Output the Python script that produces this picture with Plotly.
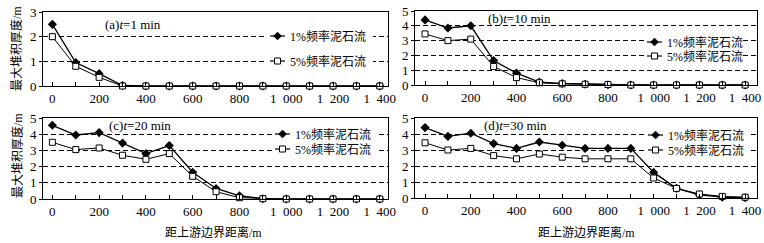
import plotly.graph_objects as go

x_dist = [0, 100, 200, 300, 400, 500, 600, 700, 800, 900, 1000, 1100, 1200, 1300, 1400]

a_1pct = [2.5, 0.95, 0.5, 0.02, 0, 0, 0, 0, 0, 0, 0, 0, 0, 0, 0]
a_5pct = [2.0, 0.8, 0.35, 0.0, 0, 0, 0, 0, 0, 0, 0, 0, 0, 0, 0]
b_1pct = [4.4, 3.85, 4.0, 1.65, 0.8, 0.2, 0.1, 0.05, 0.02, 0, 0, 0, 0, 0, 0]
b_5pct = [3.45, 3.0, 3.1, 1.25, 0.5, 0.15, 0.08, 0.05, 0.03, 0, 0, 0, 0, 0, 0]
c_1pct = [4.55, 3.95, 4.1, 3.45, 2.8, 3.3, 1.65, 0.65, 0.2, 0.02, 0, 0, 0, 0, 0]
c_5pct = [3.5, 3.05, 3.15, 2.7, 2.45, 2.8, 1.4, 0.45, 0.08, 0.02, 0, 0, 0, 0, 0]
d_1pct = [4.4, 3.85, 4.05, 3.4, 3.1, 3.5, 3.3, 3.1, 3.1, 3.1, 1.6, 0.6, 0.2, 0.05, 0.02]
d_5pct = [3.45, 3.0, 3.1, 2.65, 2.45, 2.75, 2.55, 2.45, 2.45, 2.45, 1.25, 0.6, 0.25, 0.1, 0.05]

panel_titles = ["(a)<i>t</i>=1 min", "(b)<i>t</i>=10 min", "(c)<i>t</i>=20 min", "(d)<i>t</i>=30 min"]
series_names = ["1%频率泥石流", "5%频率泥石流"]
x_tickvals = [0, 200, 400, 600, 800, 1000, 1200, 1400]
x_ticktext = ["0", "200", "400", "600", "800", "1\u2002000", "1\u2002200", "1\u2002400"]
y_label = "最大堆积厚度/m"
x_label = "距上游边界距离/m"

FONT = "Liberation Serif, Noto Sans CJK SC, serif"

panels = [
    (a_1pct, a_5pct, 3),
    (b_1pct, b_5pct, 5),
    (c_1pct, c_5pct, 5),
    (d_1pct, d_5pct, 5),
]

W, H = 764, 243


def X(px):
    return px / W


def Y(py):
    return 1 - py / H


# pixel frames: (left, right, top, bottom)
frames = [
    (43, 388, 12, 86),
    (415, 757, 11, 85),
    (43, 388, 118, 199),
    (415, 757, 118, 198),
]
xranges = [[-40, 1435], [-44, 1452], [-40, 1435], [-44, 1452]]
title_pos = [(103, 25), (486, 18), (107, 125), (482, 125)]
# legend: (sample_x0, sample_x1, text_x, row1_y, row2_y, text_end)
legend_geo = [
    (270, 285, 288, 36, 61, 370),
    (647, 662, 665, 42, 56, 740),
    (275, 290, 293, 134, 149, 374),
    (648, 663, 666, 135, 150, 747),
]

fig = go.Figure()
layout = {}
for i, (s1, s5, ymax) in enumerate(panels):
    k = "" if i == 0 else str(i + 1)
    l, r, t, b = frames[i]
    fig.add_trace(go.Scatter(
        x=x_dist, y=s1, name=series_names[0], mode="lines+markers",
        line=dict(color="black", width=1.3),
        marker=dict(symbol="diamond", size=7, color="black"),
        xaxis="x" + k, yaxis="y" + k, showlegend=False, cliponaxis=False))
    fig.add_trace(go.Scatter(
        x=x_dist, y=s5, name=series_names[1], mode="lines+markers",
        line=dict(color="black", width=1.0),
        marker=dict(symbol="square", size=6, color="white", line=dict(width=1, color="black")),
        xaxis="x" + k, yaxis="y" + k, showlegend=False, cliponaxis=False))
    layout["xaxis" + k] = dict(
        domain=[X(l), X(r)], range=xranges[i], anchor="y" + k, automargin=False,
        tickvals=x_tickvals, ticktext=x_ticktext,
        ticks="inside", ticklen=4, tickcolor="black",
        minor=dict(dtick=100, tick0=0, ticks="inside", ticklen=4, tickcolor="black"),
        showline=True, linecolor="black", linewidth=1, mirror=True,
        showgrid=False, zeroline=False,
        tickfont=dict(family=FONT, size=13, color="black"))
    layout["yaxis" + k] = dict(
        domain=[Y(b), Y(t)], range=[0, ymax], anchor="x" + k, dtick=1, automargin=False,
        ticks="outside", ticklen=3, tickcolor="black",
        showline=True, linecolor="black", linewidth=1, mirror=True,
        showgrid=True, gridcolor="black", griddash="5px,3px", gridwidth=1,
        zeroline=False,
        tickfont=dict(family=FONT, size=13, color="black"))

fig.update_layout(**layout)

annotations = []
shapes = []
for i, txt in enumerate(panel_titles):
    px, py = title_pos[i]
    annotations.append(dict(
        text=txt, x=X(px), y=Y(py), xref="paper", yref="paper",
        xanchor="left", yanchor="middle", showarrow=False,
        font=dict(family=FONT, size=13, color="black")))

for i, (sx0, sx1, tx, r1, r2, tend) in enumerate(legend_geo):
    for row, (ry, name) in enumerate(zip([r1, r2], series_names)):
        shapes.append(dict(type="rect", xref="paper", yref="paper",
                           x0=X(sx0 - 3), x1=X(tend + 3), y0=Y(ry + 5), y1=Y(ry - 5),
                           fillcolor="white", line=dict(width=0), layer="above"))
        shapes.append(dict(type="line", xref="paper", yref="paper",
                           x0=X(sx0), x1=X(sx1), y0=Y(ry), y1=Y(ry),
                           line=dict(color="black", width=1.2), layer="above"))
        cx = (sx0 + sx1) / 2
        if row == 0:
            path = (f"M{X(cx)},{Y(ry - 4)} L{X(cx + 4)},{Y(ry)} "
                    f"L{X(cx)},{Y(ry + 4)} L{X(cx - 4)},{Y(ry)} Z")
            shapes.append(dict(type="path", xref="paper", yref="paper", path=path,
                               fillcolor="black", line=dict(color="black", width=0.5),
                               layer="above"))
        else:
            shapes.append(dict(type="rect", xref="paper", yref="paper",
                               x0=X(cx - 3), x1=X(cx + 3), y0=Y(ry + 3), y1=Y(ry - 3),
                               fillcolor="white", line=dict(color="black", width=1),
                               layer="above"))
        annotations.append(dict(
            text=name, x=X(tx), y=Y(ry), xref="paper", yref="paper",
            xanchor="left", yanchor="middle", showarrow=False,
            font=dict(family=FONT, size=12, color="black")))

for py in [49, 156]:
    annotations.append(dict(
        text=y_label, x=X(17), y=Y(py), xref="paper", yref="paper",
        xanchor="center", yanchor="middle", showarrow=False, textangle=-90,
        font=dict(family=FONT, size=12, color="black")))
for px in [213, 586]:
    annotations.append(dict(
        text=x_label, x=X(px), y=Y(232), xref="paper", yref="paper",
        xanchor="center", yanchor="middle", showarrow=False,
        font=dict(family=FONT, size=12, color="black")))

fig.update_layout(
    width=W, height=H,
    margin=dict(l=0, r=0, t=0, b=0, autoexpand=False),
    paper_bgcolor="white", plot_bgcolor="white",
    annotations=annotations, shapes=shapes,
    font=dict(family=FONT, color="black"),
    showlegend=False,
)

fig.write_html("out.html", config={"displayModeBar": False})

# remove the browser's default 8px body margin so the figure sits at the page origin
with open("out.html", "r", encoding="utf-8") as f:
    html = f.read()
html = html.replace("<head>", "<head><style>html,body{margin:0;padding:0;overflow:hidden;}</style>", 1)
with open("out.html", "w", encoding="utf-8") as f:
    f.write(html)
